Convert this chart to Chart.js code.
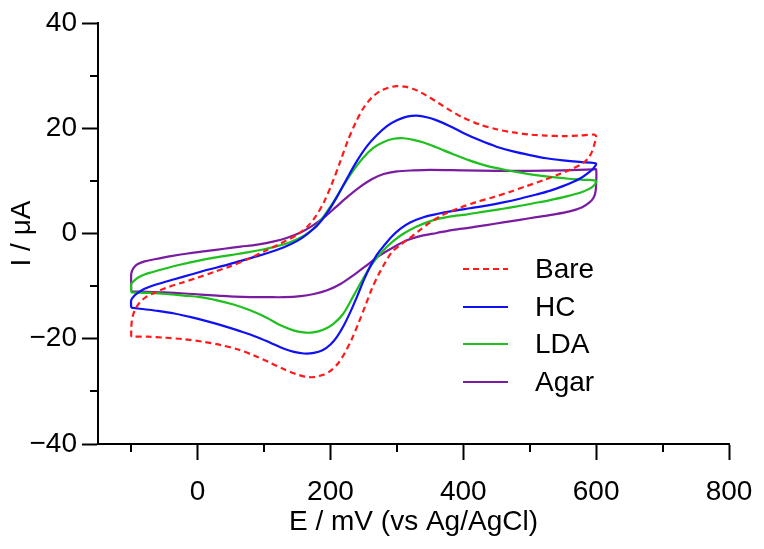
<!DOCTYPE html>
<html>
<head>
<meta charset="utf-8">
<script src="https://cdn.jsdelivr.net/npm/chart.js@4.4.1/dist/chart.umd.min.js"></script>
<style>
  html, body { margin: 0; padding: 0; background: #fff; }
  #wrap { width: 764px; height: 549px; position: relative; }
</style>
</head>
<body>
<div id="wrap"><canvas id="cv"></canvas></div>
<script>
// cyclic voltammograms, [E (mV), I (uA)] along the loop
const seriesNames = ['Bare', 'HC', 'LDA', 'Agar'];

const bare = [
  [-100, -19.6], [-100, -18.0], [-99, -16.6], [-97, -15.4], [-93, -14.2], [-87, -13.1], [-78, -12.1],
  [-65, -11.3], [-47, -10.3], [-25, -9.4], [0, -8.4], [25, -7.3], [50, -6.2], [75, -4.9], [100, -3.4],
  [125, -1.9], [150, -0.2], [165, 1.3], [178, 3.3], [190, 5.9], [202, 9.4], [214, 13.4], [226, 17.6],
  [238, 21.1], [250, 23.9], [262, 25.8], [274, 27.0], [287, 27.7], [300, 28.0], [312, 27.9],
  [324, 27.5], [336, 26.8], [350, 25.8], [365, 24.6], [380, 23.4], [400, 22.0], [425, 20.7],
  [450, 19.8], [475, 19.2], [500, 18.8], [525, 18.6], [550, 18.5], [575, 18.6], [597, 18.8],
  [600, 18.4], [597, 16.8], [594, 15.6], [588, 14.3], [578, 13.2], [564, 12.3], [545, 11.3],
  [520, 10.1], [495, 9.0], [470, 7.9], [445, 6.9], [420, 6.0], [395, 4.9], [370, 3.6], [350, 2.1],
  [335, 0.7], [320, -0.8], [305, -2.2], [292, -3.6], [282, -5.6], [272, -7.9], [262, -10.6],
  [252, -13.9], [242, -17.1], [232, -20.1], [222, -22.6], [212, -24.6], [200, -26.1], [188, -26.9],
  [175, -27.3], [162, -27.2], [148, -26.7], [130, -25.8], [110, -24.6], [85, -23.2], [60, -22.0],
  [35, -21.2], [10, -20.6], [-20, -20.1], [-50, -19.8], [-75, -19.6], [-100, -19.6]
];

const hc = [
  [-100, -14.1], [-100, -12.7], [-95, -11.8], [-88, -11.1], [-80, -10.5], [-60, -9.6], [-35, -8.7],
  [-10, -7.8], [15, -6.9], [40, -6.1], [65, -5.2], [90, -4.3], [110, -3.5], [130, -2.6], [150, -1.4],
  [165, -0.1], [180, 1.5], [195, 3.9], [210, 7.0], [225, 10.5], [240, 13.8], [255, 16.6], [270, 18.7],
  [285, 20.4], [300, 21.5], [315, 22.2], [330, 22.4], [345, 22.1], [360, 21.5], [380, 20.4],
  [400, 19.1], [425, 17.7], [450, 16.5], [475, 15.6], [500, 14.9], [525, 14.3], [550, 13.9],
  [575, 13.6], [597, 13.4],
  [600, 13.2], [596, 12.4], [590, 11.7], [579, 10.7], [565, 9.8], [550, 9.0], [530, 8.1], [510, 7.4],
  [485, 6.6], [460, 5.9], [435, 5.3], [410, 4.8], [385, 4.3], [360, 3.7], [340, 3.1], [320, 2.1],
  [305, 0.9], [292, -0.6], [280, -2.4], [270, -4.0], [260, -6.2], [250, -8.9], [240, -12.0],
  [230, -14.9], [220, -17.5], [210, -19.6], [200, -21.1], [188, -22.2], [175, -22.7], [160, -22.8],
  [145, -22.5], [130, -21.9], [110, -20.8], [90, -19.7], [65, -18.6], [40, -17.6], [15, -16.7],
  [-10, -15.9], [-35, -15.2], [-60, -14.7], [-80, -14.4], [-100, -14.1]
];

const lda = [
  [-100, -11.2], [-100, -9.6], [-95, -8.9], [-90, -8.4], [-80, -7.8], [-70, -7.4], [-50, -6.7],
  [-25, -5.9], [0, -5.2], [25, -4.6], [50, -4.1], [75, -3.6], [100, -3.0], [120, -2.4], [140, -1.6],
  [160, -0.4], [175, 1.0], [190, 3.3], [205, 6.1], [220, 9.2], [235, 12.1], [250, 14.5], [265, 16.3],
  [280, 17.4], [295, 18.0], [310, 18.1], [325, 17.8], [340, 17.3], [359, 16.4], [384, 15.1],
  [409, 13.9], [434, 12.9], [459, 12.2], [484, 11.6], [509, 11.1], [534, 10.7], [559, 10.4],
  [584, 10.2], [597, 10.1],
  [600, 9.8], [594, 8.8], [579, 7.9], [554, 7.0], [529, 6.3], [504, 5.7], [479, 5.1], [454, 4.6],
  [429, 4.1], [404, 3.6], [379, 3.2], [354, 2.5], [329, 1.3], [309, -0.1], [294, -1.5], [279, -3.3],
  [264, -5.6], [249, -8.6], [234, -12.0], [219, -15.3], [204, -17.2], [189, -18.3], [174, -18.8],
  [159, -18.8], [144, -18.4], [124, -17.4], [104, -16.0], [79, -14.6], [54, -13.5], [29, -12.7],
  [4, -12.1], [-21, -11.8], [-47, -11.5], [-73, -11.3], [-100, -11.2]
];

const agar = [
  [-100, -11.0], [-100, -7.7], [-98, -6.9], [-95, -6.3], [-90, -5.8], [-80, -5.3], [-65, -4.9],
  [-40, -4.3], [-15, -3.8], [15, -3.3], [40, -2.9], [65, -2.5], [90, -2.1], [115, -1.5], [135, -0.8],
  [155, 0.2], [172, 1.4], [190, 3.0], [208, 5.0], [226, 7.0], [244, 8.8], [262, 10.3], [280, 11.3],
  [300, 11.8], [325, 12.0], [350, 12.1], [400, 12.0], [450, 11.9], [500, 11.9], [550, 12.0], [597, 12.2],
  [600, 12.2], [600, 9.5], [599, 7.9], [596, 6.8], [590, 5.9], [579, 5.0], [560, 4.2], [535, 3.6],
  [510, 3.1], [485, 2.6], [460, 2.1], [435, 1.6], [410, 1.1], [385, 0.7], [360, 0.1], [335, -0.5],
  [315, -1.3], [295, -2.6], [275, -4.1], [255, -6.0], [235, -7.9], [215, -9.6], [195, -10.8],
  [175, -11.5], [155, -11.9], [130, -12.1], [105, -12.1], [80, -12.1], [55, -12.0], [30, -11.8],
  [5, -11.6], [-20, -11.4], [-50, -11.2], [-75, -11.1], [-100, -11.0]
];

const xMajorTicks = [0, 200, 400, 600, 800];
const xMinorTicks = [-100, 100, 300, 500, 700];
const yMajorTicks = [-40, -20, 0, 20, 40];
const yMinorTicks = [-30, -10, 10, 30];

const FONT = '"Liberation Sans", Arial, sans-serif';
const FS = 28;
const toPts = arr => arr.map(p => ({ x: p[0], y: p[1] }));
const fmt = v => (v < 0 ? '\u2212' + Math.abs(v) : String(v));

// short ticks between the labelled ones
const minorTicks = {
  id: 'minorTicks',
  afterDraw(chart) {
    const ctx = chart.ctx, a = chart.chartArea;
    const sx = chart.scales.x, sy = chart.scales.y;
    ctx.save();
    ctx.strokeStyle = '#000';
    ctx.lineWidth = 2;
    ctx.beginPath();
    xMinorTicks.forEach(v => {
      const p = Math.round(sx.getPixelForValue(v));
      ctx.moveTo(p, a.bottom); ctx.lineTo(p, a.bottom + 8);
    });
    yMinorTicks.forEach(v => {
      const p = Math.round(sy.getPixelForValue(v));
      ctx.moveTo(a.left, p); ctx.lineTo(a.left - 8, p);
    });
    ctx.stroke();
    ctx.restore();
  }
};

// legend sitting inside the plot, lower right
const cvLegend = {
  id: 'cvLegend',
  afterDatasetsDraw(chart, args, opts) {
    const ctx = chart.ctx;
    ctx.save();
    ctx.font = FS + 'px ' + FONT;
    ctx.textBaseline = 'middle';
    ctx.textAlign = 'left';
    chart.data.datasets.forEach((ds, i) => {
      const y = Math.round(opts.y + i * opts.step);
      ctx.strokeStyle = ds.borderColor;
      ctx.lineWidth = 2;
      ctx.setLineDash(ds.borderDash || []);
      ctx.beginPath();
      ctx.moveTo(opts.x, y);
      ctx.lineTo(opts.x + opts.len, y);
      ctx.stroke();
      ctx.setLineDash([]);
      ctx.fillStyle = '#000';
      ctx.fillText(ds.label, opts.textX, y + 1);
    });
    ctx.restore();
  }
};

const colors = ['#ff1a1a', '#1010f5', '#1ec01e', '#7a1ca0'];
const curves = [bare, hc, lda, agar];

new Chart(document.getElementById('cv'), {
  type: 'line',
  data: {
    datasets: curves.map((c, i) => ({
      label: seriesNames[i],
      data: toPts(c),
      borderColor: colors[i],
      backgroundColor: colors[i],
      borderWidth: 2.2,
      borderDash: i === 0 ? [6, 4] : [],
      pointRadius: 0,
      tension: 0.3,
      fill: false
    }))
  },
  options: {
    responsive: true,
    maintainAspectRatio: false,
    animation: false,
    events: [],
    layout: { padding: { top: 23, right: 35, left: 0, bottom: 0 } },
    plugins: {
      legend: { display: false },
      tooltip: { enabled: false },
      cvLegend: { x: 463, len: 45, textX: 535, y: 269, step: 37.5 }
    },
    scales: {
      x: {
        type: 'linear',
        min: -150,
        max: 800,
        afterBuildTicks: s => { s.ticks = xMajorTicks.map(v => ({ value: v })); },
        afterFit: s => { s.height = 105; s.paddingLeft = 0; s.paddingRight = 0; },
        grid: { drawOnChartArea: false, drawTicks: true, tickLength: 16, tickWidth: 2, tickColor: '#000' },
        border: { display: true, color: '#000', width: 2 },
        ticks: { color: '#000', font: { family: FONT, size: FS }, padding: 15, maxRotation: 0, autoSkip: false, callback: fmt },
        title: { display: true, text: 'E / mV (vs Ag/AgCl)', color: '#000', font: { family: FONT, size: FS }, padding: { top: 0, bottom: 10 } }
      },
      y: {
        type: 'linear',
        min: -40,
        max: 40,
        afterBuildTicks: s => { s.ticks = yMajorTicks.map(v => ({ value: v })); },
        afterFit: s => { s.width = 98; s.paddingTop = 0; s.paddingBottom = 0; },
        grid: { drawOnChartArea: false, drawTicks: true, tickLength: 16, tickWidth: 2, tickColor: '#000' },
        border: { display: true, color: '#000', width: 2 },
        ticks: { color: '#000', font: { family: FONT, size: FS }, padding: 5, autoSkip: false, callback: fmt },
        title: { display: true, text: 'I / μA', color: '#000', font: { family: FONT, size: FS }, padding: { top: 5.5, bottom: 0 } }
      }
    }
  },
  plugins: [minorTicks, cvLegend]
});
</script>
</body>
</html>
